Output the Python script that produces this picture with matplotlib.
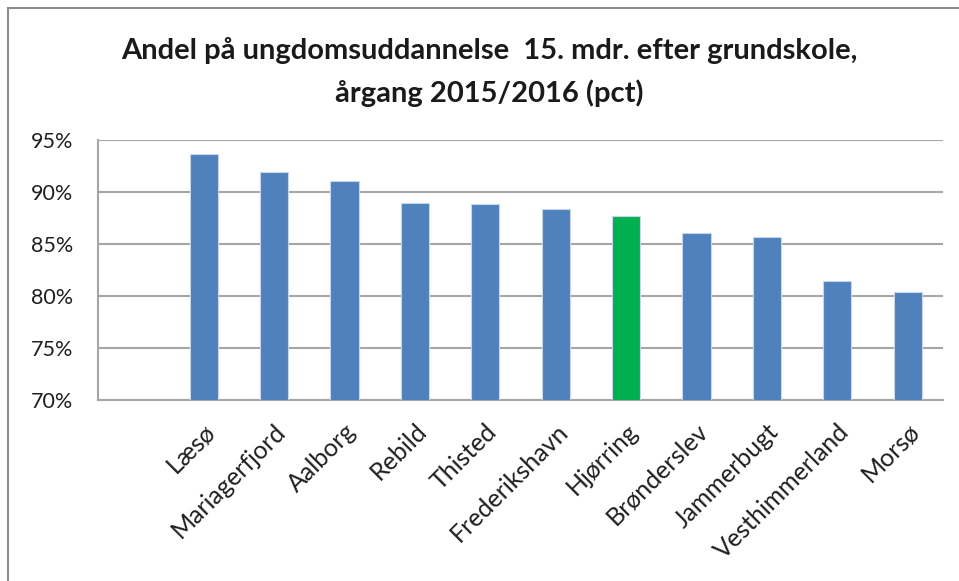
import numpy as np
import matplotlib
matplotlib.use("Agg")
import matplotlib.pyplot as plt
from matplotlib.patches import Rectangle

plt.rcParams['font.family'] = ['Lato', 'DejaVu Sans']

# first slot is left empty in the original chart
kommuner = ["", "Læsø", "Mariagerfjord", "Aalborg", "Rebild", "Thisted",
            "Frederikshavn", "Hjørring", "Brønderslev", "Jammerbugt",
            "Vesthimmerland", "Morsø"]
andel = [np.nan, 93.7, 91.9, 91.1, 88.9, 88.8, 88.4, 87.7, 86.1, 85.7, 81.4, 80.4]
fremhaev = "Hjørring"
y_ticks = [70, 75, 80, 85, 90, 95]

blaa = "#4F81BD"
groen = "#00B050"
farver = [groen if k == fremhaev else blaa for k in kommuner]

fig = plt.figure(figsize=(9.59, 5.81), dpi=100)
fig.patches.append(Rectangle((8 / 959, -0.1), 1.2, 1 - 8 / 581 + 0.1,
                             transform=fig.transFigure, fill=False,
                             edgecolor="#8c8c8c", linewidth=1.5))

ax = fig.add_axes([98 / 959, 1 - 400 / 581, 845 / 959, 260 / 581])
x = np.arange(len(kommuner))
ax.bar(x, andel, width=0.4, bottom=0, color=farver, edgecolor="#c6d5ea",
       linewidth=0.8, zorder=3)

ax.set_xlim(-0.5, len(kommuner) - 0.5)
ax.set_ylim(70, 95)
ax.set_yticks(y_ticks)
ax.set_yticklabels([f"{t}%" for t in y_ticks], fontsize=15.5, color="#1f1f1f")
ax.yaxis.grid(True, color="#a6a6a6", linewidth=1.5, zorder=0)
ax.tick_params(axis="y", length=0, pad=18)
ax.tick_params(axis="x", length=0, pad=14)

ax.set_xticks(x[1:])
ax.set_xticklabels(kommuner[1:], rotation=45, ha="right", va="top",
                   rotation_mode="anchor", fontsize=18, color="#1f1f1f")

for s in ["top", "right"]:
    ax.spines[s].set_visible(False)
ax.spines["left"].set_color("#a6a6a6")
ax.spines["bottom"].set_color("#a6a6a6")
ax.spines["left"].set_linewidth(1.5)
ax.spines["bottom"].set_linewidth(1.5)

fig.text(489 / 959, 1 - 50 / 581,
         "Andel på ungdomsuddannelse  15. mdr. efter grundskole,",
         ha="center", va="center", fontsize=21, fontweight="bold",
         color="#1a1a1a")
fig.text(489 / 959, 1 - 93 / 581, "årgang 2015/2016 (pct)",
         ha="center", va="center", fontsize=21, fontweight="bold",
         color="#1a1a1a")

fig.savefig("out.png", dpi=100)
